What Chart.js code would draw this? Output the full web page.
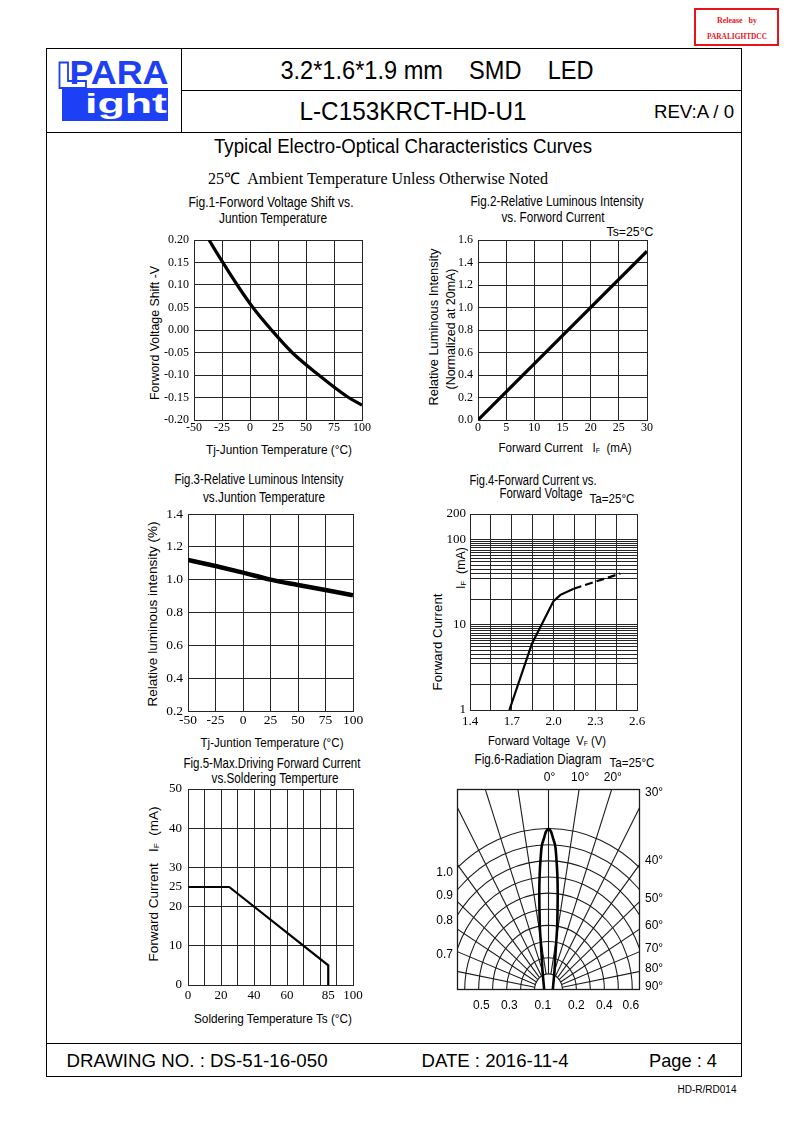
<!DOCTYPE html>
<html lang="en">
<head>
<meta charset="UTF-8">
<title>L-C153KRCT-HD-U1 - Typical Electro-Optical Characteristics Curves</title>
<script src="https://cdn.jsdelivr.net/npm/chart.js@4.4.1/dist/chart.umd.min.js"></script>
<script>
  // Fig.1 forward voltage shift vs junction temperature
  const fig1Temp = [-36.6, -25, -11.4, 2.6, 19.2, 37.6, 61.4, 88, 100];
  const fig1Shift = [0.200, 0.153, 0.100, 0.050, 0.000, -0.050, -0.100, -0.150, -0.167];
  const fig1XTicks = [-50, -25, 0, 25, 50, 75, 100];
  const fig1YTicks = [-0.20, -0.15, -0.10, -0.05, 0, 0.05, 0.10, 0.15, 0.20];
  const fig1YLabels = ['-0.20', '-0.15', '-0.10', '-0.05', '0.00', '0.05', '0.10', '0.15', '0.20'];

  // Fig.2 relative luminous intensity vs forward current
  const fig2Current = [0, 30];
  const fig2Intensity = [0, 1.5];
  const fig2XTicks = [0, 5, 10, 15, 20, 25, 30];
  const fig2YTicks = [0, 0.2, 0.4, 0.6, 0.8, 1.0, 1.2, 1.4, 1.6];
  const fig2YLabels = ['0.0', '0.2', '0.4', '0.6', '0.8', '1.0', '1.2', '1.4', '1.6'];

  // Fig.3 relative luminous intensity vs junction temperature
  const fig3Temp = [-50, -25, 0, 25, 50, 75, 100];
  const fig3Intensity = [1.12, 1.083, 1.043, 1.0, 0.968, 0.937, 0.905];
  const fig3XTicks = [-50, -25, 0, 25, 50, 75, 100];
  const fig3YTicks = [0.2, 0.4, 0.6, 0.8, 1.0, 1.2, 1.4];
  const fig3YLabels = ['0.2', '0.4', '0.6', '0.8', '1.0', '1.2', '1.4'];

  // Fig.4 forward current vs forward voltage (log)
  const fig4VoltSolid = [1.683, 1.845, 2.0, 2.05, 2.145];
  const fig4CurrSolid = [1, 6, 19, 22.5, 26.5];
  const fig4VoltDash = [2.145, 2.48];
  const fig4CurrDash = [26.5, 40];
  const fig4XTicks = [1.4, 1.55, 1.7, 1.85, 2.0, 2.15, 2.3, 2.45, 2.6];
  const fig4XLabels = ['1.4', '', '1.7', '', '2.0', '', '2.3', '', '2.6'];
  const fig4YTicks = [1, 2, 3.5, 4, 4.5, 5, 5.5, 6, 6.5, 7, 7.5, 8, 8.5, 9, 9.5, 10,
                      20, 35, 40, 45, 50, 55, 60, 65, 70, 75, 80, 85, 90, 95, 100, 200];
  const fig4YShown = [1, 10, 100, 200];

  // Fig.5 max driving forward current vs soldering temperature
  const fig5Temp = [0, 25, 85, 85];
  const fig5Current = [25, 25, 5, 0];
  const fig5XTicks = [0, 10, 20, 30, 40, 50, 60, 70, 80, 85, 90, 100];
  const fig5XLabels = ['0', '', '20', '', '40', '', '60', '', '', '85', '', '100'];
  const fig5XNoGrid = [85];
  const fig5YTicks = [0, 10, 20, 25, 30, 40, 50];
  const fig5YLabels = ['0', '10', '20', '25', '30', '40', '50'];
  const fig5YNoGrid = [25];

  // Fig.6 radiation diagram
  const lobeHeight = [-0.068, -0.006, 0.118, 0.199, 0.292, 0.391, 0.596, 0.720, 0.807, 0.894, 0.944, 0.981, 0.998];
  const lobeHalfWidth = [0.026, 0.030, 0.043, 0.048, 0.055, 0.062, 0.066, 0.063, 0.057, 0.048, 0.031, 0.018, 0];
  const radArcs = [0.1, 0.2, 0.3, 0.4, 0.5, 0.6, 0.7, 0.8, 0.9, 1.0];
  const radSpokes = [-90, -80, -70, -60, -50, -40, -30, -20, -10, 0, 10, 20, 30, 40, 50, 60, 70, 80, 90];
  const radTopAngles = [0, 10, 20];
  const radSideAngles = [30, 40, 50, 60, 70, 80, 90];
  const radEdgeValues = [1.0, 0.9, 0.8, 0.7];
  const radBottomAt = [-0.48, -0.28, -0.04, 0.2, 0.4, 0.59];
  const radBottomLabels = ['0.5', '0.3', '0.1', '0.2', '0.4', '0.6'];
</script>
<style>
  html, body { margin: 0; padding: 0; background: #fff; }
  #page { position: relative; width: 793px; height: 1123px; overflow: hidden;
          font-family: "Liberation Sans", Arial, sans-serif; color: #000; }
  .t { position: absolute; white-space: pre; line-height: 1; }
  .serif { font-family: "Liberation Serif", "Times New Roman", serif; }
  .hl { position: absolute; height: 1px; background: #000; }
  .vl { position: absolute; width: 1px; background: #000; }
  canvas { position: absolute; }
  sub { font-size: 0.6em; vertical-align: -0.2em; line-height: 0; }
  .ft { font-size: 14px; }
  .al { font-size: 13px; }
</style>
</head>
<body>
<div id="page">
  <!-- release stamp -->
  <div style="position:absolute;left:694px;top:8px;width:81px;height:34px;border:2px solid #e8141b;"></div>
  <div class="t serif" style="left:737px;top:21px;font-size:8px;font-weight:bold;color:#e8141b" data-w="40">Release   by</div>
  <div class="t serif" style="left:737px;top:37px;font-size:8px;font-weight:bold;color:#e8141b" data-w="60">PARALIGHTDCC</div>

  <!-- frame -->
  <div style="position:absolute;left:46px;top:48px;width:694px;height:1027px;border:1px solid #000;"></div>
  <div class="hl" style="left:181px;top:90px;width:560px"></div>
  <div class="hl" style="left:46px;top:132px;width:695px"></div>
  <div class="vl" style="left:181px;top:48px;height:84px"></div>
  <div class="hl" style="left:46px;top:1043px;width:695px"></div>

  <!-- logo -->
  <svg style="position:absolute;left:0;top:0" width="200" height="140">
    <rect x="62" y="88" width="106" height="33" fill="#1d3ff5"/>
    <path d="M59.5 62.5 H68 V81 H86 V88 H59.5 Z" fill="#fff" stroke="#1d3ff5" stroke-width="1.8"/>
  </svg>
  <div class="t" style="left:119px;top:72px;font-size:33px;font-weight:bold;color:#1d3ff5" data-w="99">PARA</div>
  <div class="t" style="left:126px;top:104px;font-size:28px;font-weight:bold;color:#fff" data-w="82">ight</div>

  <!-- header -->
  <div class="t" style="left:437px;top:70px;font-size:25px" data-w="313">3.2*1.6*1.9 mm    SMD    LED</div>
  <div class="t" style="left:413px;top:111px;font-size:25px" data-w="227">L-C153KRCT-HD-U1</div>
  <div class="t" style="left:694px;top:111px;font-size:19px" data-w="80">REV:A / 0</div>
  <div class="t" style="left:403px;top:146px;font-size:20px" data-w="378">Typical Electro-Optical Characteristics Curves</div>
  <div class="t serif" style="left:378px;top:179px;font-size:16px" data-w="340">25℃  Ambient Temperature Unless Otherwise Noted</div>

  <!-- fig 1 texts -->
  <div class="t ft" style="left:271px;top:202px" data-w="165">Fig.1-Forword Voltage Shift vs.</div>
  <div class="t ft" style="left:273px;top:218px" data-w="108">Juntion Temperature</div>
  <div class="t al rot" style="left:154px;top:333px" data-w="134">Forword Voltage Shift -V</div>
  <div class="t al" style="left:279px;top:449px" data-w="146">Tj-Juntion Temperature (°C)</div>

  <!-- fig 2 texts -->
  <div class="t ft" style="left:557px;top:201px" data-w="173">Fig.2-Relative Luminous Intensity</div>
  <div class="t ft" style="left:553px;top:217px" data-w="103">vs. Forword Current</div>
  <div class="t al" style="left:630px;top:231px" data-w="47">Ts=25°C</div>
  <div class="t al rot" style="left:433px;top:327px" data-w="157">Relative Luminous Intensity</div>
  <div class="t al rot" style="left:450px;top:329px" data-w="121">(Normalized at 20mA)</div>
  <div class="t al" style="left:565px;top:447px" data-w="133">Forward Current   I<sub>F</sub>  (mA)</div>

  <!-- fig 3 texts -->
  <div class="t ft" style="left:259px;top:479px" data-w="169">Fig.3-Relative Luminous Intensity</div>
  <div class="t ft" style="left:264px;top:497px" data-w="122">vs.Juntion Temperature</div>
  <div class="t al rot" style="left:152px;top:614px" data-w="185">Relative luminous intensity (%)</div>
  <div class="t al" style="left:272px;top:742px" data-w="143">Tj-Juntion Temperature (°C)</div>

  <!-- fig 4 texts -->
  <div class="t ft" style="left:533px;top:480px" data-w="127">Fig.4-Forward Current vs.</div>
  <div class="t ft" style="left:541px;top:493px" data-w="83">Forward Voltage</div>
  <div class="t al" style="left:612px;top:498px" data-w="45">Ta=25°C</div>
  <div class="t al rot" style="left:437px;top:642px" data-w="97">Forward Current</div>
  <div class="t al rot" style="left:460px;top:568px" data-w="42">I<sub>F</sub>  (mA)</div>
  <div class="t al" style="left:547px;top:740px" data-w="118">Forward Voltage  V<sub>F</sub> (V)</div>

  <!-- fig 5 texts -->
  <div class="t ft" style="left:272px;top:763px" data-w="177">Fig.5-Max.Driving Forward Current</div>
  <div class="t ft" style="left:275px;top:778px" data-w="127">vs.Soldering Temperture</div>
  <div class="t al rot" style="left:153px;top:884px" data-w="155">Forward Current   I<sub>F</sub>  (mA)</div>
  <div class="t al" style="left:273px;top:1018px" data-w="158">Soldering Temperature Ts (°C)</div>

  <!-- fig 6 texts -->
  <div class="t ft" style="left:538px;top:759px" data-w="127">Fig.6-Radiation Diagram</div>
  <div class="t al" style="left:632px;top:762px" data-w="45">Ta=25°C</div>

  <canvas id="fig1"></canvas>
  <canvas id="fig2"></canvas>
  <canvas id="fig3"></canvas>
  <canvas id="fig4"></canvas>
  <canvas id="fig5"></canvas>
  <canvas id="fig6"></canvas>

  <!-- footer -->
  <div class="t" style="left:197px;top:1060px;font-size:19px" data-w="261">DRAWING NO. : DS-51-16-050</div>
  <div class="t" style="left:495px;top:1060px;font-size:19px" data-w="147">DATE : 2016-11-4</div>
  <div class="t" style="left:683px;top:1060px;font-size:19px" data-w="68">Page : 4</div>
  <div class="t" style="left:707px;top:1090px;font-size:10px" data-w="59">HD-R/RD014</div>
</div>

<script>
  // squeeze texts to the narrow look of the sheet
  document.querySelectorAll('.t').forEach(el => {
    const w = parseFloat(el.dataset.w);
    const s = w ? w / el.getBoundingClientRect().width : 1;
    const rot = el.classList.contains('rot') ? ' rotate(-90deg)' : '';
    el.style.transform = 'translate(-50%,-50%)' + rot + ' scaleX(' + s.toFixed(3) + ')';
  });

  const GRID = '#262626';
  const SERIF = '"Liberation Serif", "Times New Roman", serif';

  function axis(dir, ticks, labels, o) {
    const noGrid = o.noGrid || [];
    return {
      type: o.type || 'linear',
      bounds: 'data',
      min: ticks[0],
      max: ticks[ticks.length - 1],
      afterBuildTicks: s => { s.ticks = ticks.map(v => ({ value: v })); },
      afterFit: s => {
        if (dir === 'x') { s.height = o.room; s.paddingLeft = 0; s.paddingRight = 0; }
        else { s.width = o.room; s.paddingTop = 0; s.paddingBottom = 0; }
      },
      grid: {
        color: c => (c.tick && noGrid.includes(c.tick.value)) ? 'rgba(0,0,0,0)' : GRID,
        lineWidth: 1,
        drawTicks: false
      },
      border: { color: GRID, width: 1 },
      ticks: {
        autoSkip: false, maxRotation: 0, padding: o.pad, color: '#000',
        font: { family: SERIF, size: o.font },
        callback: (v, i) => labels[i]
      }
    };
  }

  function curve(xs, ys, width, extra) {
    return Object.assign({
      data: xs.map((v, i) => ({ x: v, y: ys[i] })),
      showLine: true, borderColor: '#000', backgroundColor: '#000',
      borderWidth: width, pointRadius: 0, fill: false
    }, extra || {});
  }

  function plot(id, box, m, datasets, xAxis, yAxis, extraPlugins, padding) {
    const c = document.getElementById(id);
    c.width = box.r - box.l + m.l + m.r;
    c.height = box.b - box.t + m.t + m.b;
    c.style.left = (box.l - m.l) + 'px';
    c.style.top = (box.t - m.t) + 'px';
    return new Chart(c, {
      type: 'scatter',
      data: { datasets: datasets },
      options: {
        responsive: false,
        animation: false,
        events: [],
        layout: { padding: padding || { left: 0, top: m.t, right: m.r, bottom: 0 } },
        plugins: { legend: { display: false }, tooltip: { enabled: false } },
        scales: { x: xAxis, y: yAxis }
      },
      plugins: extraPlugins || []
    });
  }

  // Fig.1
  const m1 = { l: 52, r: 14, t: 8, b: 22 };
  plot('fig1', { l: 194, t: 240, r: 362, b: 420 }, m1,
    [curve(fig1Temp, fig1Shift, 3.2, { cubicInterpolationMode: 'monotone' })],
    axis('x', fig1XTicks, fig1XTicks.map(String), { room: m1.b, pad: 1, font: 12 }),
    axis('y', fig1YTicks, fig1YLabels, { room: m1.l, pad: 5, font: 12 }));

  // Fig.2
  const m2 = { l: 40, r: 14, t: 8, b: 22 };
  plot('fig2', { l: 478, t: 240, r: 647, b: 420 }, m2,
    [curve(fig2Current, fig2Intensity, 3.2)],
    axis('x', fig2XTicks, fig2XTicks.map(String), { room: m2.b, pad: 1, font: 12 }),
    axis('y', fig2YTicks, fig2YLabels, { room: m2.l, pad: 5, font: 12 }));

  // Fig.3
  const m3 = { l: 40, r: 16, t: 8, b: 22 };
  plot('fig3', { l: 188, t: 514, r: 353, b: 711 }, m3,
    [curve(fig3Temp, fig3Intensity, 4.5, { cubicInterpolationMode: 'monotone' })],
    axis('x', fig3XTicks, fig3XTicks.map(String), { room: m3.b, pad: 1, font: 13.5 }),
    axis('y', fig3YTicks, fig3YLabels, { room: m3.l, pad: 5, font: 13.5 }));

  // Fig.4
  const m4 = { l: 36, r: 14, t: 10, b: 22 };
  plot('fig4', { l: 470, t: 514, r: 637, b: 710 }, m4,
    [curve(fig4VoltSolid, fig4CurrSolid, 2.2),
     curve(fig4VoltDash, fig4CurrDash, 2.2, { borderDash: [8, 4] })],
    axis('x', fig4XTicks, fig4XLabels, { room: m4.b, pad: 4, font: 13 }),
    axis('y', fig4YTicks, fig4YTicks.map(v => fig4YShown.includes(v) ? String(v) : ''),
         { room: m4.l, pad: 4, font: 13, type: 'logarithmic' }));

  // Fig.5
  const m5 = { l: 36, r: 16, t: 10, b: 22 };
  plot('fig5', { l: 188, t: 789, r: 353, b: 985 }, m5,
    [curve(fig5Temp, fig5Current, 2.2)],
    axis('x', fig5XTicks, fig5XLabels, { room: m5.b, pad: 3, font: 13, noGrid: fig5XNoGrid }),
    axis('y', fig5YTicks, fig5YLabels, { room: m5.l, pad: 6, font: 13, noGrid: fig5YNoGrid }));

  // Fig.6 radiation diagram: arcs and spokes drawn through the x/y scales
  const lobeRight = lobeHeight.map((h, i) => ({ x: lobeHalfWidth[i], y: h }));
  const lobeLeft = lobeHeight.map((h, i) => ({ x: -lobeHalfWidth[i], y: h })).reverse().slice(1);

  const polarGrid = {
    id: 'polarGrid',
    beforeDatasetsDraw(chart) {
      const { ctx, chartArea: a, scales: { x, y } } = chart;
      const cx = x.getPixelForValue(0), cy = y.getPixelForValue(0);
      const sx = x.getPixelForValue(1) - cx, sy = cy - y.getPixelForValue(1);
      ctx.save();
      ctx.beginPath();
      ctx.rect(a.left, a.top, a.width, a.height);
      ctx.clip();
      ctx.strokeStyle = '#1c1c1c';
      ctx.lineWidth = 1.1;
      radArcs.forEach(r => {
        ctx.beginPath();
        ctx.ellipse(cx, cy, r * sx, r * sy, 0, Math.PI, 2 * Math.PI);
        ctx.stroke();
      });
      radSpokes.forEach(d => {
        const t = d * Math.PI / 180;
        ctx.beginPath();
        ctx.moveTo(x.getPixelForValue(radArcs[0] * Math.sin(t)), y.getPixelForValue(radArcs[0] * Math.cos(t)));
        ctx.lineTo(x.getPixelForValue(3 * Math.sin(t)), y.getPixelForValue(3 * Math.cos(t)));
        ctx.stroke();
      });
      ctx.restore();
    },
    afterDraw(chart) {
      const { ctx, chartArea: a, scales: { x, y } } = chart;
      ctx.save();
      ctx.strokeStyle = '#1c1c1c';
      ctx.lineWidth = 1.3;
      ctx.strokeRect(a.left + 0.5, a.top + 0.5, a.width - 1, a.height - 1);
      ctx.fillStyle = '#000';
      ctx.font = '12px "Liberation Sans", Arial, sans-serif';
      ctx.textBaseline = 'middle';
      // angles along the top
      ctx.textAlign = 'center';
      radTopAngles.forEach(d => {
        ctx.fillText(d + '°', x.getPixelForValue(y.max * Math.tan(d * Math.PI / 180)) + 1, a.top - 11);
      });
      // angles along the right side (the first one sits in the corner)
      ctx.textAlign = 'left';
      radSideAngles.forEach(d => {
        const yv = x.max / Math.tan(d * Math.PI / 180);
        let py = y.getPixelForValue(yv) - 3;
        if (py - a.top < 20) py = a.top + 4;
        ctx.fillText(d + '°', a.right + 5, py);
      });
      // intensity values where arcs meet the left edge
      ctx.textAlign = 'right';
      radEdgeValues.forEach(r => {
        const yv = Math.sqrt(r * r - x.min * x.min);
        ctx.fillText(r.toFixed(1), a.left - 4, y.getPixelForValue(yv) + 5);
      });
      // values along the bottom
      ctx.textAlign = 'center';
      radBottomAt.forEach((v, i) => {
        ctx.fillText(radBottomLabels[i], x.getPixelForValue(v), a.bottom + 16);
      });
      ctx.restore();
    }
  };

  const m6 = { l: 30, r: 28, t: 20, b: 24 };
  plot('fig6', { l: 457, t: 789, r: 640, b: 990 }, m6,
    [{
      data: lobeRight.concat(lobeLeft),
      showLine: true, borderColor: '#000', borderWidth: 2.6,
      pointRadius: 0, fill: false, tension: 0.3
    }],
    { type: 'linear', display: false, min: -0.655, max: 0.655 },
    { type: 'linear', display: false, min: 0, max: 1.245 },
    [polarGrid],
    { left: m6.l, top: m6.t, right: m6.r, bottom: m6.b });
</script>
</body>
</html>
